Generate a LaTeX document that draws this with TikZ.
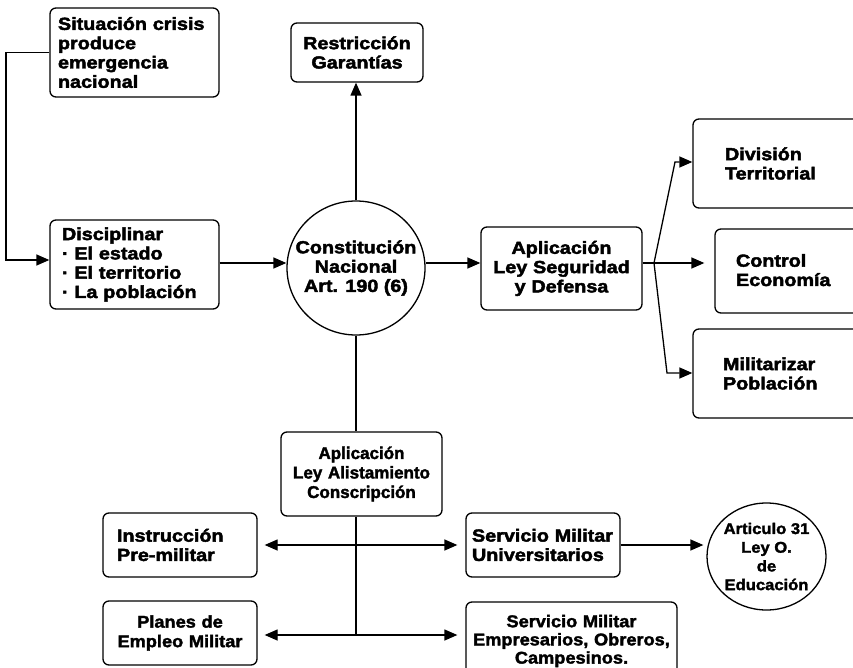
\documentclass[tikz,border=0pt]{standalone}
\usepackage{fontspec}
\usetikzlibrary{arrows.meta,shapes.geometric}
\newfontfamily\fa[FakeStretch=1.13,FakeBold=2.5]{Liberation Sans Bold}
\newfontfamily\fb[FakeBold=2]{Liberation Sans Bold}
\newfontfamily\fc[FakeStretch=1.07,FakeBold=2]{Liberation Sans Bold}
\tikzset{
  fA/.style={font={\fa\fontsize{17.5}{19.3}\selectfont}},
  fB/.style={font={\fb\fontsize{17}{19.5}\selectfont}},
  fP/.style={font={\fc\fontsize{17}{19.5}\selectfont}},
  fE/.style={font={\fc\fontsize{17}{18.2}\selectfont}},
  fC/.style={font={\fc\fontsize{15.5}{18.7}\selectfont}},
  box/.style={draw, rounded corners=6pt, line width=1.3pt, inner ysep=0pt},
  ell/.style={draw, ellipse, line width=1.3pt, inner sep=0pt},
  ln/.style={line width=1.3pt},
  arr/.style={line width=1.3pt, -{Triangle[length=13pt,width=11pt]}},
  dbl/.style={line width=1.3pt, {Triangle[length=13pt,width=11pt]}-{Triangle[length=13pt,width=11pt]}}
}
\begin{document}
\begin{tikzpicture}[x=1pt,y=-1pt]
\useasboundingbox (0,0) rectangle (853,668);
% boxes
\node[box,fA,align=left,minimum width=169,minimum height=89,text width=153,inner xsep=8] (sit) at (134.5,52.5)
  {Situación crisis\\produce\\emergencia\\nacional};
\node[box,fA,align=center,minimum width=132,minimum height=59,text width=124,inner xsep=4] (res) at (357,52.5)
  {Restricción\\Garantías};
\node[box,fA,align=left,minimum width=169,minimum height=89,text width=145,inner xsep=12] (disc) at (134.5,264.5)
  {Disciplinar\\· El estado\\· El territorio\\· La población};
\node[ell,minimum width=138,minimum height=134] (circ) at (356,268) {};
\node[fA,align=center,inner sep=0pt] (circt) at (356,268) {Constitución\\Nacional\\Art. 190 (6)};
\node[box,fA,align=center,minimum width=161,minimum height=83,text width=153,inner xsep=4] (aps) at (561.5,268.5)
  {Aplicación\\Ley Seguridad\\y Defensa};
\node[box,fA,align=left,minimum width=177,minimum height=89,text width=113,inner xsep=32] (div) at (781.5,163.5)
  {División\\Territorial};
\node[box,fA,align=left,minimum width=155,minimum height=84,text width=113,inner xsep=21] (ctl) at (792.5,271)
  {\raisebox{2pt}{Control}\\\raisebox{2pt}{Economía}};
\node[box,fA,align=left,minimum width=177,minimum height=89,text width=117,inner xsep=30] (mil) at (781.5,373.5)
  {Militarizar\\Población};
\node[box,fB,align=center,minimum width=161,minimum height=84,text width=153,inner xsep=4] (ali) at (361.5,474)
  {Aplicación\\Ley Alistamiento\\Conscripción};
\node[box,fA,align=left,minimum width=154,minimum height=64,text width=126,inner xsep=14] (ins) at (180,545)
  {Instrucción\\Pre-militar};
\node[box,fP,align=center,minimum width=154,minimum height=64,text width=146,inner xsep=4] (pla) at (180,633)
  {Planes de\\Empleo Militar};
\node[box,fA,align=left,minimum width=154,minimum height=64,text width=142,inner xsep=6] (uni) at (543,545)
  {Servicio Militar\\Universitarios};
\node[box,fE,align=center,minimum width=211,minimum height=78,text width=205,inner xsep=3] (emp) at (571.5,641)
  {Servicio Militar\\Empresarios, Obreros,\\Campesinos.};
\node[ell,minimum width=119,minimum height=107] (art) at (766.5,556.5) {};
\node[fC,align=center,inner sep=0pt] (artt) at (766.5,556.5) {Articulo 31\\Ley O.\\de\\Educación};
% helper coordinates
\coordinate (lk) at (6,50);
\coordinate (mid) at (0,263);
\coordinate (fj) at (654,263);
\coordinate (fd) at (675,162);
\coordinate (fm) at (667,373);
\coordinate (b2) at (0,635);
% connectors
\draw[arr] (sit.west) -- (sit.west -| lk) |- ([yshift=4.5pt]disc.west);
\draw[arr] (circ.north) -- (circ.north |- res.south);
\draw[arr] (disc.east |- mid) -- (circ.west |- mid);
\draw[arr] (circ.east |- mid) -- (aps.west |- mid);
\draw[ln] (aps.east |- mid) -- (fj);
\draw[arr] (fj) -- (fd) -- (div.west |- fd);
\draw[arr, shorten >=10pt] (fj) -- (ctl.west |- fj);
\draw[arr] (fj) -- (fm) -- (mil.west |- fm);
\draw[ln] (circ.south) -- (circ.south |- ali.north);
\draw[ln] (circ.south |- ali.south) -- (circ.south |- b2);
\draw[dbl, shorten <=7pt, shorten >=8pt] (ins.east) -- (uni.west);
\draw[dbl, shorten <=7pt, shorten >=8pt] (pla.east |- b2) -- (emp.west |- b2);
\draw[arr, shorten >=3pt] (uni.east) -- (art.west |- uni.east);
\end{tikzpicture}
\end{document}
